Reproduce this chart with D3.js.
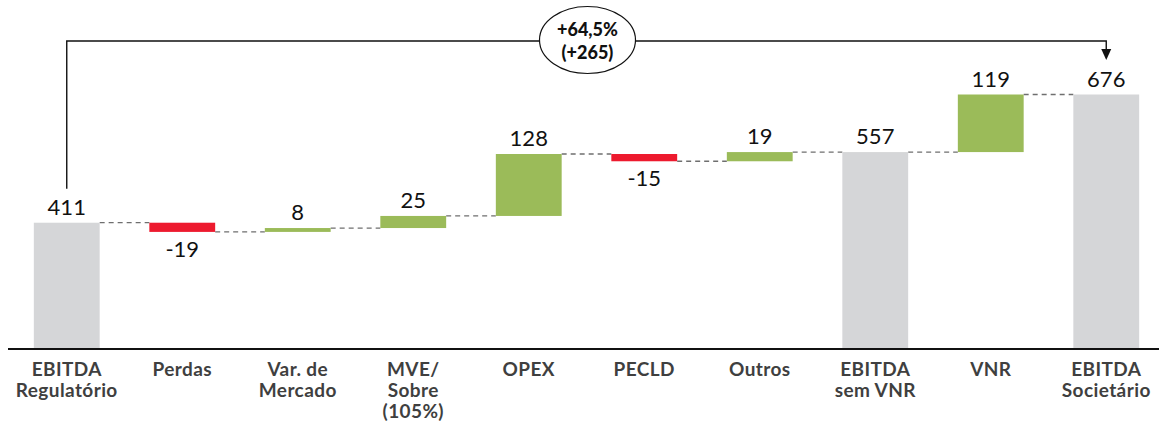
<!DOCTYPE html>
<html><head><meta charset="utf-8">
<script src="https://cdn.jsdelivr.net/npm/d3@7"></script>
<style>
body{margin:0;background:#fff;}
svg{display:block;font-family:Lato,"Open Sans",sans-serif;}
</style></head>
<body><svg id="c" width="1159" height="427"></svg>
<script>
const categories = [["EBITDA","Regulatório"],["Perdas"],["Var. de","Mercado"],["MVE/","Sobre","(105%)"],["OPEX"],["PECLD"],["Outros"],["EBITDA","sem VNR"],["VNR"],["EBITDA","Societário"]];
const values = [411, -19, 8, 25, 128, -15, 19, 557, 119, 676];
const kinds = ["total","delta","delta","delta","delta","delta","delta","total","delta","total"];
const valueLabels = ["411","-19","8","25","128","-15","19","557","119","676"];
const annotationLines = ["+64,5%","(+265)"];
const yMin = 150, yMax = 676;

const svg = d3.select("#c");
const x = d3.scaleBand().domain(d3.range(categories.length)).range([9,1164]).paddingInner(0.43).paddingOuter(0.215);
const y = d3.scaleLinear().domain([yMin,yMax]).range([349,94.5]);

let run = 0;
const segs = values.map((v,i)=>{
  let s;
  if(kinds[i]==="total"){ s={i,lo:yMin,hi:v,end:v,v,kind:"total"}; run=v; }
  else { const a=run, b=run+v; s={i,lo:Math.min(a,b),hi:Math.max(a,b),end:b,v,kind:v<0?"neg":"pos"}; run=b; }
  return s;
});
const color = {total:"#D5D6D8",pos:"#9BBB59",neg:"#ED1A2E"};

const g = svg.append("g");
segs.slice(0,-1).forEach((s,k)=>{
  g.append("line")
   .attr("x1",x(s.i)+x.bandwidth()).attr("x2",x(s.i+1))
   .attr("y1",y(s.end)).attr("y2",y(s.end))
   .attr("stroke","#6f6f6f").attr("stroke-width",1.3).attr("stroke-dasharray","5,4");
});

g.selectAll("rect.bar").data(segs).join("rect").attr("class","bar")
  .attr("x",d=>x(d.i)).attr("width",x.bandwidth())
  .attr("y",d=>y(d.hi)).attr("height",d=>y(d.lo)-y(d.hi))
  .attr("fill",d=>color[d.kind]);

g.selectAll("text.val").data(segs).join("text").attr("class","val")
  .attr("x",d=>x(d.i)+x.bandwidth()/2)
  .attr("y",d=>d.kind==="neg"? y(d.lo)+25 : y(d.hi)-8)
  .attr("text-anchor","middle").attr("font-size",22).attr("fill","#111")
  .text((d,k)=>valueLabels[k]);

const ax = svg.append("g").attr("transform","translate(0,349)")
  .call(d3.axisBottom(x).tickSize(0).tickFormat(""));
ax.select(".domain").attr("stroke","#111").attr("stroke-width",2).attr("d","M8,0H1159");
ax.selectAll(".tick").each(function(d){
  const t = d3.select(this).append("text").attr("fill","#3f3f3f").attr("font-weight","bold")
    .attr("font-size",19).attr("letter-spacing",0.4).attr("text-anchor","middle").attr("font-family","Lato,'Open Sans',sans-serif");
  categories[d].forEach((ln,j)=>t.append("tspan").attr("x",0).attr("y",27+j*21).text(ln));
});

const xa = x(0)+x.bandwidth()/2, xb = x(9)+x.bandwidth()/2, yTop = 41;
svg.append("path").attr("d",`M${xa},${y(values[0])-34}V${yTop}H${xb}V52`)
  .attr("fill","none").attr("stroke","#111").attr("stroke-width",1.4);
svg.append("path").attr("d",`M${xb-5},49L${xb+5},49L${xb},60Z`).attr("fill","#111");
const ex = 587.5;
svg.append("ellipse").attr("cx",ex).attr("cy",40).attr("rx",48).attr("ry",33.5)
  .attr("fill","#fff").attr("stroke","#111").attr("stroke-width",1.2);
const at = svg.append("text").attr("text-anchor","middle").attr("font-weight","900").attr("font-size",18).attr("fill","#111");
annotationLines.forEach((ln,j)=>at.append("tspan").attr("x",ex).attr("y",36+j*23).text(ln));
</script></body></html>
